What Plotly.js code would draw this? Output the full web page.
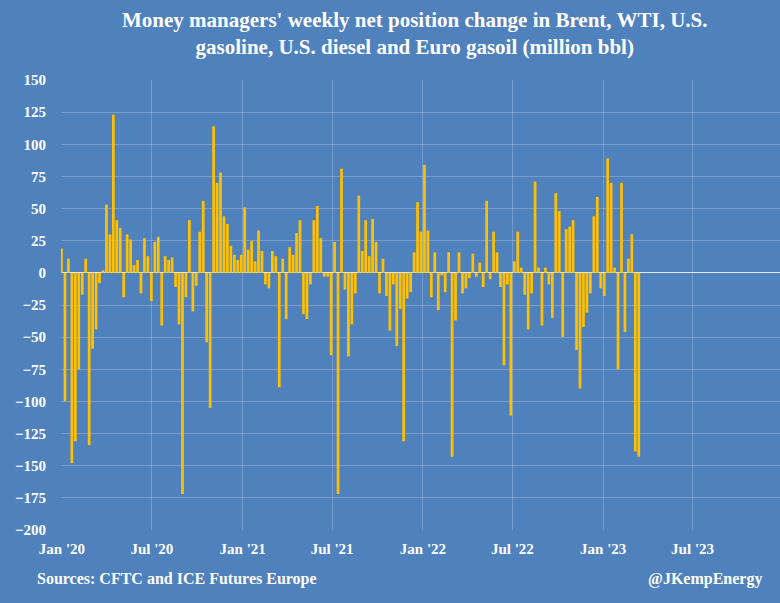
<!DOCTYPE html>
<html>
<head>
<meta charset="utf-8">
<script src="https://cdn.plot.ly/plotly-3.0.1.min.js"></script>
<style>
html,body{margin:0;padding:0;background:#4F81BD;}
#chart{width:780px;height:603px;}
</style>
</head>
<body>
<div id="chart"></div>
<script>
// Weekly net position change (million bbl), first report 2019-12-31
const firstWeek = '2019-12-31';
const w2020 = [19, -100, 11, -148, -131, -75, -17, 11, -134, -59, -44, -8, 2, 53, 30, 123, 41, 35, -19, 30, 26, 6, 10, -16, 27, 13, -22, 24, 28, -41, 13, 10, 12, -11, -40, -172, -19, 41, -30, -10, 32, 56, -54, -105, 114, 70, 78, 44, 38, 21, 14, 10, 14];
const w2021 = [51, 18, 25, 9, 33, 17, -9, -12, 17, 13, -89, 11, -36, 20, 14, 31, 41, -32, -36, -9, 41, 52, 27, -3, -3, -64, 24, -172, 81, -13, -65, -40, -16, 60, 17, 41, 13, 42, 24, -16, 11, -18, -45, -9, -57, -28, -131, -20, -15, 16, 55, 32];
const w2022 = [84, 33, -19, 16, -29, -2, -15, 16, -143, -37, 16, -16, -12, -4, 15, -3, 8, -11, 56, -5, 32, 16, -11, -72, -9, -111, 9, 32, 4, -17, -44, -16, 71, 4, -41, 4, -9, -35, 62, 48, -50, 34, 36, 41, -60, -90, -42, -31, -16, 44, 59, -12];
const w2023 = [-18, 89, 70, 4, -75, 70, -46, 11, 30, -139, -143];

const tickDates = ['2020-01-01','2020-07-01','2021-01-01','2021-07-01','2022-01-01','2022-07-01','2023-01-01','2023-07-01'];
const tickLabels = ["Jan '20","Jul '20","Jan '21","Jul '21","Jan '22","Jul '22","Jan '23","Jul '23"];
const yTicks = [150,125,100,75,50,25,0,-25,-50,-75,-100,-125,-150,-175,-200];

const values = w2020.concat(w2021, w2022, w2023);
const dates = [];
const start = new Date(firstWeek + 'T00:00:00Z');
for (let i = 0; i < values.length; i++) {
  const d = new Date(start.getTime() + i * 7 * 86400000);
  dates.push(d.toISOString().slice(0, 10));
}

const serif = '"Liberation Serif", "DejaVu Serif", serif';
const bg = '#4F81BD';
const grid = 'rgba(255,255,255,0.22)';

const trace = {
  type: 'bar',
  x: dates,
  y: values,
  width: 5.5 * 86400000,
  marker: {color: '#FFC000', line: {width: 0}},
  hoverinfo: 'x+y'
};

const layout = {
  width: 780, height: 603,
  paper_bgcolor: bg, plot_bgcolor: bg,
  margin: {l: 61, r: 0, t: 80, b: 73},
  showlegend: false,
  xaxis: {
    type: 'date',
    range: ['2019-12-30', '2023-12-25'],
    tickmode: 'array', tickvals: tickDates, ticktext: tickLabels,
    showgrid: true, gridcolor: grid, gridwidth: 1,
    zeroline: false, showline: false, ticks: '',
    ticklabelstandoff: 8,
    tickfont: {family: serif, size: 15, color: '#FFFFFF', weight: 'bold'}
  },
  yaxis: {
    range: [-200, 150],
    tickmode: 'array', tickvals: yTicks,
    showgrid: true, gridcolor: grid, gridwidth: 1,
    zeroline: true, zerolinecolor: 'rgba(255,255,255,0.85)', zerolinewidth: 1,
    showline: false, ticks: '',
    ticklabelstandoff: 14,
    tickfont: {family: serif, size: 15, color: '#FFFFFF', weight: 'bold'}
  },
  annotations: [
    {text: "Money managers' weekly net position change in Brent, WTI, U.S.<br>gasoline, U.S. diesel and Euro gasoil (million bbl)",
     xref: 'paper', yref: 'paper', x: 0.493, y: 1.1044, xanchor: 'center', yanchor: 'middle',
     align: 'center', showarrow: false,
     font: {family: serif, size: 21, color: '#FFFFFF', weight: 'bold'}},
    {text: 'Sources: CFTC and ICE Futures Europe', xref: 'paper', yref: 'paper',
     x: -0.036, y: -0.108, xanchor: 'left', yanchor: 'middle', showarrow: false,
     font: {family: serif, size: 16, color: '#FFFFFF', weight: 'bold'}},
    {text: '@JKempEnergy', xref: 'paper', yref: 'paper',
     x: 0.9775, y: -0.108, xanchor: 'right', yanchor: 'middle', showarrow: false,
     font: {family: serif, size: 16, color: '#FFFFFF', weight: 'bold'}}
  ]
};

Plotly.newPlot('chart', [trace], layout, {displayModeBar: false, staticPlot: true});
</script>
</body>
</html>
